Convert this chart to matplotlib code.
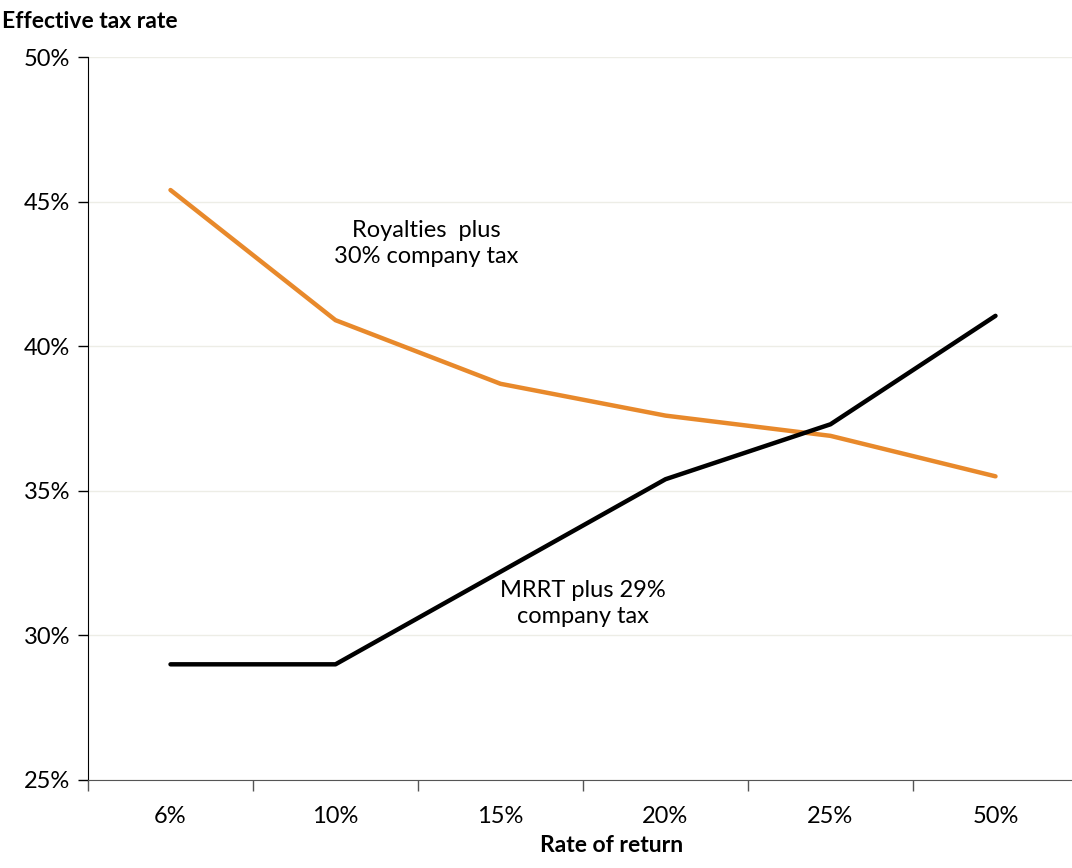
import matplotlib.pyplot as plt
from matplotlib.ticker import FixedLocator, NullFormatter

plt.rcParams['font.family'] = ['Lato', 'DejaVu Sans']

# data
categories = ['6%', '10%', '15%', '20%', '25%', '50%']
royalties = [45.4, 40.9, 38.7, 37.6, 36.9, 35.5]
mrrt = [29.0, 29.0, 32.2, 35.4, 37.3, 41.05]
yticks = [25, 30, 35, 40, 45, 50]
ytick_labels = ['25%', '30%', '35%', '40%', '45%', '50%']

orange = '#E8892B'

fig = plt.figure(figsize=(10.72, 8.68), dpi=100)
ax = fig.add_axes([88/1072, 1 - 780/868, 990/1072, 723/868])

x = list(range(len(categories)))
ax.plot(x, royalties, color=orange, lw=3.2, solid_capstyle='round', solid_joinstyle='round', zorder=3)
ax.plot(x, mrrt, color='black', lw=3.2, solid_capstyle='round', solid_joinstyle='round', zorder=3)

ax.set_xlim(-0.5, len(categories) - 0.5)
ax.set_ylim(25, 50)

ax.set_yticks(yticks)
ax.set_yticklabels(ytick_labels, fontsize=17)
ax.yaxis.grid(True, color='#EDEDE6', lw=1)
ax.set_axisbelow(True)

# category labels in the middle, tick marks on the boundaries
ax.set_xticks(x)
ax.set_xticklabels(categories, fontsize=17)
ax.tick_params(axis='x', which='major', length=0, pad=19)
ax.xaxis.set_minor_locator(FixedLocator([i - 0.5 for i in range(len(categories) + 1)]))
ax.xaxis.set_minor_formatter(NullFormatter())
ax.tick_params(axis='x', which='minor', length=8, color='#555555', width=1)
ax.tick_params(axis='y', length=7, width=1, pad=6)

for s in ['top', 'right']:
    ax.spines[s].set_visible(False)
ax.spines['left'].set_color('black')
ax.spines['bottom'].set_color('#555555')

ax.text(1.55, 43.55, 'Royalties  plus\n30% company tax', ha='center', va='center',
        fontsize=17, linespacing=1.3)
ax.text(2.5, 31.1, 'MRRT plus 29%\ncompany tax', ha='center', va='center',
        fontsize=17, linespacing=1.3)

fig.text(0.002, 1 - 22/868, 'Effective tax rate', fontsize=16.5, fontweight='bold', va='center', ha='left')
fig.text(612/1072, 1 - 845/868, 'Rate of return', fontsize=16.5, fontweight='bold', va='center', ha='center')

fig.savefig('out.png', dpi=100)
